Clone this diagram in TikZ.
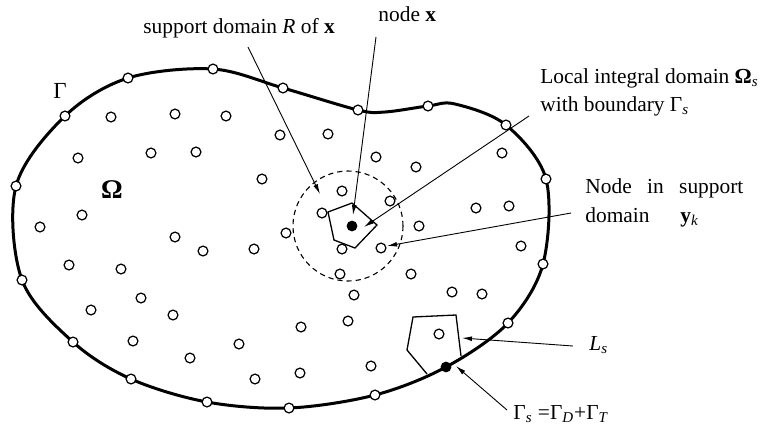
\documentclass[tikz,border=0pt]{standalone}
\usepackage{fontspec}
\setmainfont{Liberation Serif}
\usetikzlibrary{arrows.meta}
\begin{document}
\begin{tikzpicture}[x=0.5pt,y=-0.5pt,
  lbl/.style={inner sep=0pt,font=\fontsize{10.7}{14.2}\selectfont},
  onode/.style={circle,draw,fill=white,line width=0.62pt,inner sep=0pt,minimum size=4.9pt},
  fnode/.style={circle,fill=black,inner sep=0pt,minimum size=5.4pt},
  boundary/.style={line width=1.5pt},
  poly/.style={line width=0.65pt,line join=miter},
  supp/.style={dashed,dash pattern=on 2.6pt off 2pt,line width=0.55pt},
  arr/.style={-{Latex[length=5pt,width=2.4pt]},line width=0.45pt,shorten >=0pt}
]
\useasboundingbox (0,0) rectangle (761,425);

% boundary curve
\draw[boundary] plot[smooth cycle,tension=0.55] coordinates {
  (16,186) (65,116) (128,78) (213,69) (283,88) (358,110) (385,112) (428,106)
  (455,104) (506,125) (546,179) (543,264) (508,323) (446,367)
  (375,395) (289,408) (207,402) (131,379) (73,342) (22,280)};

% support domain
\node[circle,draw,supp,minimum size=55pt,inner sep=0pt] (R) at (348,226) {};

% local integral domain around x
\coordinate (p1) at (328,212);
\coordinate (p2) at (352,203);
\coordinate (p3) at (377,225);
\coordinate (p4) at (355,248);
\coordinate (p5) at (334,240);
\draw[poly] (p1) -- (p2) -- (p3) -- (p4) -- (p5) -- cycle;

% local domain intersecting boundary
\coordinate (q1) at (413,317);
\coordinate (q2) at (456,315);
\coordinate (q3) at (461,356);
\coordinate (q4) at (427,374);
\coordinate (q5) at (407,350);
\draw[poly] (q3) -- (q2) -- (q1) -- (q5) -- (q4);

% boundary nodes
\foreach \p [count=\i] in {(16,186),(65,116),(128,78),(213,69),(283,88),(358,110),
  (428,106),(506,125),(546,179),(543,264),(508,323),(375,395),(289,408),
  (207,402),(131,379),(73,342),(22,280)}
  \node[onode] (b\i) at \p {};

% interior nodes
\foreach \p [count=\i] in {(111,117),(175,114),(226,116),(280,135),(328,134),
  (78,158),(151,153),(196,152),(376,157),(416,167),(502,153),(262,179),
  (342,191),(390,201),(82,215),(40,227),(286,233),(322,213),(476,208),
  (509,206),(419,226),(175,237),(203,251),(254,249),(342,249),(381,248),
  (521,246),(69,265),(121,269),(340,274),(411,274),(354,295),(452,292),
  (482,294),(141,298),(91,310),(173,315),(348,321),(301,327),(439,334),
  (133,341),(239,344),(190,358),(371,366),(300,373),(255,379)}
  \node[onode] (i\i) at \p {};

% filled nodes
\node[fnode] (x) at (352,226) {};
\node[fnode] (g) at (446,367) {};

% labels
\node[lbl,font=\fontsize{11.5}{14}\selectfont] (Gam) at (60,91) {Γ};
\node[lbl,font=\fontsize{13.5}{16}\selectfont\bfseries] (Om) at (112,190) {Ω};
\node[lbl,anchor=base west] (t1) at (143,33) {support domain \textit{R} of \textbf{x}};
\node[lbl,anchor=base west] (t2) at (378,21) {node \textbf{x}};
\node[lbl,anchor=base west] (t3) at (540,83) {Local integral domain \textbf{Ω}\textsubscript{\textit{s}}};
\node[lbl,anchor=base west] (t3b) at (540,111) {with boundary Γ\textsubscript{\textit{s}}};
\node[lbl,anchor=base west] (t4) at (585,193) {\makebox[79pt][s]{Node in support}};
\node[lbl,anchor=base west] (t4b) at (585,222) {\makebox[47.5pt][l]{domain}\textbf{y}\textsubscript{\textit{k}}};
\node[lbl,anchor=base west] (t5) at (589,350) {\textit{L}\textsubscript{\textit{s}}};
\node[lbl,anchor=base west] (t6) at (513,419) {Γ\textsubscript{\textit{s}} =Γ\textsubscript{\textit{D}}+Γ\textsubscript{\textit{T}}};

% arrow ends
\coordinate (a1s) at (248,47);  \coordinate (a1e) at (320,194);
\coordinate (a2s) at (376,37);  \coordinate (a2e) at (353,215);
\coordinate (a3s) at (529,116); \coordinate (a3e) at (364,227);
\coordinate (a4s) at (571,213); \coordinate (a4e) at (387,246);
\coordinate (a5s) at (573,346); \coordinate (a5e) at (462,338);
\coordinate (a6s) at (507,410); \coordinate (a6e) at (456,366);

\draw[arr] (a1s) -- (a1e);
\draw[arr] (a2s) -- (a2e);
\draw[arr] (a3s) -- (a3e);
\draw[arr] (a4s) -- (a4e);
\draw[arr] (a5s) -- (a5e);
\draw[arr] (a6s) -- (a6e);
\end{tikzpicture}
\end{document}
